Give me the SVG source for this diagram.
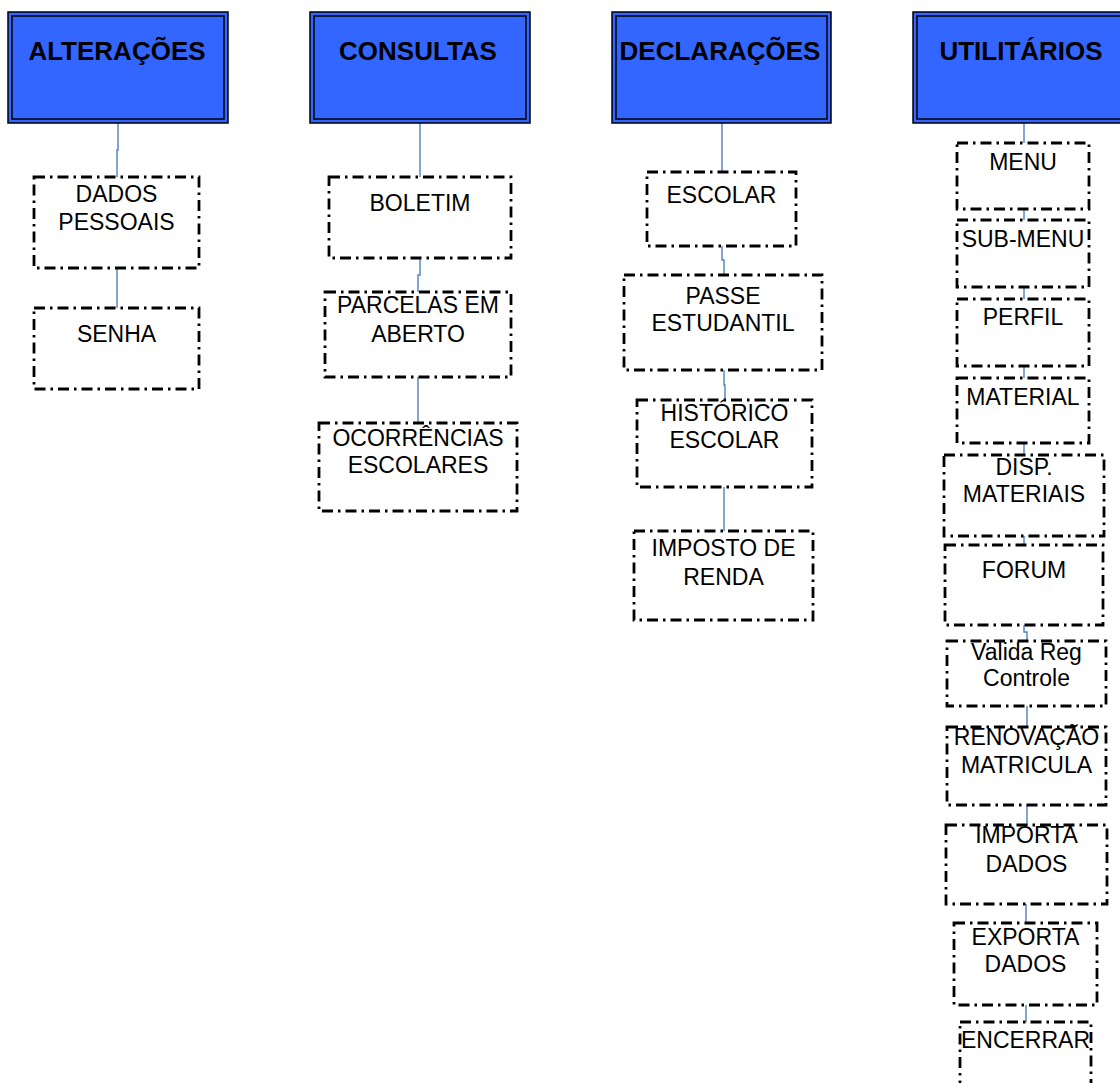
<svg xmlns="http://www.w3.org/2000/svg" width="1120" height="1083" viewBox="0 0 1120 1083">
<style>
.hdr{fill:#3366FF;stroke:#000;stroke-width:1.5}
.hin{fill:none;stroke:#000;stroke-width:1.5}
.ht{font-family:"Liberation Sans",Arial,sans-serif;font-weight:bold;font-size:26px;fill:#000;text-anchor:middle}
.box{fill:#fff;stroke:#000;stroke-width:2.8;stroke-dasharray:11 5 2.5 5}
.t{font-family:"Liberation Sans",Arial,sans-serif;font-size:23px;fill:#000;text-anchor:middle}
.c{fill:none;stroke:#4F81BD;stroke-width:1.4}
</style>
<rect width="1120" height="1083" fill="#fff"/>
<g id="connectors">
<path class="c" d="M118 123V150H117V177M117 268V308"/>
<path class="c" d="M420 123V177M420 258V275H418V292M418 377V423"/>
<path class="c" d="M722 123V172M722 246V260H724V275M724 370V385H725V400M724 487V531"/>
<path class="c" d="M1024 123V143M1024 209V220M1024 287V299M1024 366V378M1024 443V455M1024 536V545M1024 625V632H1027V641M1027 706V727M1027 805V825M1026 904V923M1026 1005V1022"/>
</g>
<g id="h-alteracoes"><rect class="hdr" x="8" y="12" width="220" height="111"/><rect class="hin" x="12" y="16" width="212" height="103"/><text class="ht" x="117" y="60">ALTERAÇÕES</text></g>
<g id="h-consultas"><rect class="hdr" x="310" y="12" width="220" height="111"/><rect class="hin" x="314" y="16" width="212" height="103"/><text class="ht" x="418" y="60">CONSULTAS</text></g>
<g id="h-declaracoes"><rect class="hdr" x="612" y="12" width="219" height="111"/><rect class="hin" x="616" y="16" width="211" height="103"/><text class="ht" x="720" y="60">DECLARAÇÕES</text></g>
<g id="h-utilitarios"><rect class="hdr" x="913" y="12" width="220" height="111"/><rect class="hin" x="917" y="16" width="212" height="103"/><text class="ht" x="1021" y="60">UTILITÁRIOS</text></g>

<g id="n-dados-pessoais"><rect class="box" x="34" y="177" width="165" height="91"/><text class="t" x="116.5" y="202">DADOS</text><text class="t" x="116.5" y="230">PESSOAIS</text></g>
<g id="n-senha"><rect class="box" x="34" y="308" width="165" height="81"/><text class="t" x="116.5" y="342">SENHA</text></g>

<g id="n-boletim"><rect class="box" x="329" y="177" width="182" height="81"/><text class="t" x="420" y="211">BOLETIM</text></g>
<g id="n-parcelas"><rect class="box" x="325" y="292" width="186" height="85"/><text class="t" x="418" y="313">PARCELAS EM</text><text class="t" x="418" y="342">ABERTO</text></g>
<g id="n-ocorrencias"><rect class="box" x="319" y="423" width="198" height="88"/><text class="t" x="418" y="446">OCORRÊNCIAS</text><text class="t" x="418" y="473">ESCOLARES</text></g>

<g id="n-escolar"><rect class="box" x="647" y="172" width="149" height="74"/><text class="t" x="721.5" y="203">ESCOLAR</text></g>
<g id="n-passe"><rect class="box" x="624" y="275" width="198" height="95"/><text class="t" x="723" y="304">PASSE</text><text class="t" x="723" y="331">ESTUDANTIL</text></g>
<g id="n-historico"><rect class="box" x="637" y="400" width="175" height="87"/><text class="t" x="724.5" y="421">HISTÓRICO</text><text class="t" x="724.5" y="448">ESCOLAR</text></g>
<g id="n-imposto"><rect class="box" x="634" y="531" width="179" height="89"/><text class="t" x="723.5" y="556">IMPOSTO DE</text><text class="t" x="723.5" y="585">RENDA</text></g>

<g id="n-menu"><rect class="box" x="957" y="143" width="132" height="66"/><text class="t" x="1023" y="170">MENU</text></g>
<g id="n-submenu"><rect class="box" x="957" y="220" width="132" height="67"/><text class="t" x="1023" y="247">SUB-MENU</text></g>
<g id="n-perfil"><rect class="box" x="957" y="299" width="132" height="67"/><text class="t" x="1023" y="325">PERFIL</text></g>
<g id="n-material"><rect class="box" x="957" y="378" width="132" height="65"/><text class="t" x="1023" y="405">MATERIAL</text></g>
<g id="n-disp"><rect class="box" x="944" y="455" width="160" height="81"/><text class="t" x="1024" y="475">DISP.</text><text class="t" x="1024" y="502">MATERIAIS</text></g>
<g id="n-forum"><rect class="box" x="945" y="545" width="158" height="80"/><text class="t" x="1024" y="578">FORUM</text></g>
<g id="n-valida"><rect class="box" x="947" y="641" width="159" height="65"/><text class="t" x="1026.5" y="660">Valida Reg</text><text class="t" x="1026.5" y="686">Controle</text></g>
<g id="n-renovacao"><rect class="box" x="947" y="727" width="159" height="78"/><text class="t" x="1026.5" y="745">RENOVAÇÃO</text><text class="t" x="1026.5" y="773">MATRICULA</text></g>
<g id="n-importa"><rect class="box" x="946" y="825" width="161" height="79"/><text class="t" x="1026.5" y="843">IMPORTA</text><text class="t" x="1026.5" y="872">DADOS</text></g>
<g id="n-exporta"><rect class="box" x="954" y="923" width="143" height="82"/><text class="t" x="1025.5" y="945">EXPORTA</text><text class="t" x="1025.5" y="972">DADOS</text></g>
<g id="n-encerrar"><rect class="box" x="960" y="1022" width="131" height="80"/><text class="t" x="1025.5" y="1048">ENCERRAR</text></g>
</svg>
